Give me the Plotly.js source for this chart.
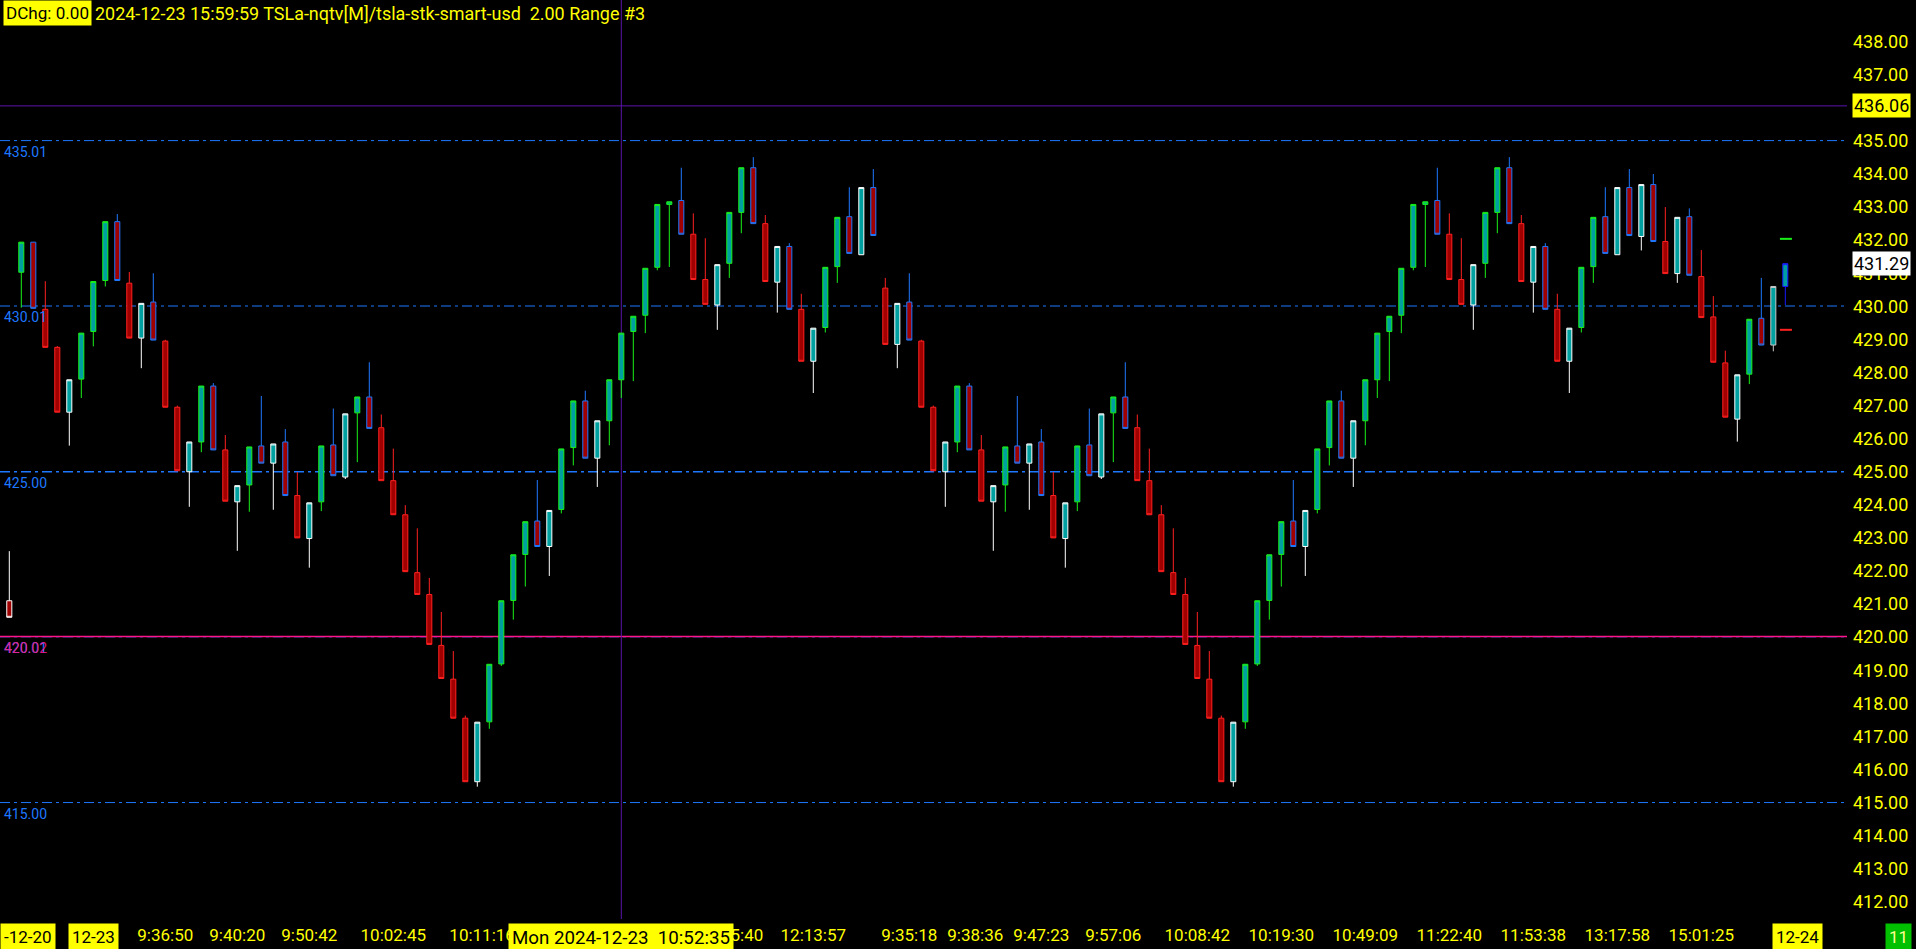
<!DOCTYPE html>
<html><head><meta charset="utf-8">
<script src="https://cdn.plot.ly/plotly-3.0.1.min.js"></script>
<style>html,body{margin:0;padding:0;background:#000;overflow:hidden}#chart{width:1916px;height:949px}</style>
</head><body><div id="chart"></div><script>
// ---------- data ----------
const opens = [
 421.1, 431.03, 431.94, 429.91, 428.76, 426.8, 427.8, 429.24, 430.78, 432.56,
 430.7, 429.04, 430.13, 428.95, 426.95, 425.0, 425.9, 427.59, 425.66, 424.09,
 424.6, 425.78, 425.26, 425.9, 424.28, 422.98, 424.09, 425.81, 424.84, 426.78,
 427.26, 426.33, 424.73, 423.7, 421.95, 421.29, 419.75, 418.73, 417.55, 415.63,
 417.44, 419.19, 421.11, 422.5, 423.51, 422.74, 423.86, 425.73, 427.14, 425.41,
 426.54, 427.78, 429.24, 429.73, 431.18, 433.08, 433.2, 432.18, 430.81, 430.04,
 431.3, 432.84, 434.19, 432.5, 430.73, 431.81, 429.91, 428.34, 429.36, 431.2,
 432.71, 431.56, 433.59, 430.55, 428.85, 430.13, 428.95, 426.95, 425.0, 425.9,
 427.59, 425.66, 424.09, 424.6, 425.78, 425.26, 425.9, 424.28, 422.98, 424.09,
 425.81, 424.84, 426.78, 427.26, 426.33, 424.73, 423.7, 421.95, 421.29, 419.75,
 418.73, 417.55, 415.63, 417.44, 419.19, 421.11, 422.5, 423.51, 422.74, 423.86,
 425.73, 427.14, 425.41, 426.54, 427.78, 429.24, 429.73, 431.18, 433.08, 433.2,
 432.18, 430.81, 430.04, 431.3, 432.84, 434.19, 432.5, 430.73, 431.81, 429.91,
 428.34, 429.36, 431.2, 432.71, 431.56, 433.59, 432.11, 433.68, 431.96, 430.99,
 432.71, 430.9, 429.68, 428.29, 426.59, 427.95, 429.64, 428.83, 430.6];
const highs = [
 422.6, 431.94, 431.94, 430.76, 428.8, 427.78, 429.19, 430.75, 432.56, 432.79,
 431.04, 430.09, 431.0, 428.99, 427.0, 425.9, 427.59, 427.68, 426.11, 424.58,
 425.75, 427.29, 425.84, 426.29, 424.99, 424.06, 425.78, 426.91, 426.75, 427.26,
 428.31, 426.73, 425.7, 423.99, 423.29, 421.79, 420.76, 419.58, 417.63, 417.43,
 419.18, 421.1, 422.49, 423.49, 424.75, 423.83, 425.69, 427.14, 427.45, 426.54,
 427.78, 429.19, 429.7, 431.15, 433.08, 433.16, 434.19, 432.81, 432.06, 431.26,
 432.84, 434.19, 434.51, 432.76, 431.81, 431.91, 430.38, 429.34, 431.18, 432.69,
 433.6, 433.59, 434.15, 430.86, 430.09, 431.0, 428.99, 427.0, 425.9, 427.59,
 427.68, 426.11, 424.58, 425.75, 427.29, 425.84, 426.29, 424.99, 424.06, 425.78,
 426.91, 426.75, 427.26, 428.31, 426.73, 425.7, 423.99, 423.29, 421.79, 420.76,
 419.58, 417.63, 417.43, 419.18, 421.1, 422.49, 423.49, 424.75, 423.83, 425.69,
 427.14, 427.45, 426.54, 427.78, 429.19, 429.7, 431.15, 433.08, 433.16, 434.19,
 432.81, 432.06, 431.26, 432.84, 434.19, 434.51, 432.76, 431.81, 431.91, 430.38,
 429.34, 431.18, 432.69, 433.6, 433.59, 434.15, 433.68, 434.0, 433.0, 432.69,
 432.96, 431.7, 430.31, 428.66, 427.93, 429.61, 430.86, 430.6, 431.29];
const lows = [
 420.6, 429.96, 429.94, 428.76, 426.8, 425.79, 427.23, 428.79, 430.6, 430.78,
 429.04, 428.13, 428.98, 426.95, 425.03, 423.94, 425.59, 425.66, 424.11, 422.61,
 423.79, 425.26, 423.85, 424.28, 423.0, 422.1, 423.81, 424.88, 424.78, 425.29,
 426.31, 424.73, 423.7, 421.98, 421.29, 419.78, 418.75, 417.55, 415.63, 415.48,
 417.23, 419.13, 420.53, 421.53, 422.74, 421.85, 423.74, 425.19, 425.41, 424.54,
 425.8, 427.23, 427.74, 429.19, 431.09, 431.19, 432.18, 430.81, 430.06, 429.29,
 430.86, 432.21, 432.5, 430.75, 429.81, 429.91, 428.34, 427.38, 429.21, 430.71,
 431.6, 431.56, 432.14, 428.85, 428.13, 428.98, 426.95, 425.03, 423.94, 425.59,
 425.66, 424.11, 422.61, 423.79, 425.26, 423.85, 424.28, 423.0, 422.1, 423.81,
 424.88, 424.78, 425.29, 426.31, 424.73, 423.7, 421.98, 421.29, 419.78, 418.75,
 417.55, 415.63, 415.48, 417.23, 419.13, 420.53, 421.53, 422.74, 421.85, 423.74,
 425.19, 425.41, 424.54, 425.8, 427.23, 427.74, 429.19, 431.09, 431.19, 432.18,
 430.81, 430.06, 429.29, 430.86, 432.21, 432.5, 430.75, 429.81, 429.91, 428.34,
 427.38, 429.21, 430.71, 431.6, 431.56, 432.14, 431.69, 431.96, 430.99, 430.71,
 430.94, 429.66, 428.31, 426.65, 425.91, 427.65, 428.83, 428.64, 430.04];
const closes = [
 420.6, 431.94, 429.94, 428.76, 426.8, 427.78, 429.19, 430.75, 432.56, 430.78,
 429.04, 430.09, 428.98, 426.95, 425.03, 425.9, 427.59, 425.66, 424.11, 424.58,
 425.75, 425.26, 425.84, 424.28, 423.0, 424.06, 425.78, 424.88, 426.75, 427.26,
 426.31, 424.73, 423.7, 421.98, 421.29, 419.78, 418.75, 417.55, 415.63, 417.43,
 419.18, 421.1, 422.49, 423.49, 422.74, 423.83, 425.69, 427.14, 425.41, 426.54,
 427.78, 429.19, 429.7, 431.15, 433.08, 433.16, 432.18, 430.81, 430.06, 431.26,
 432.84, 434.19, 432.5, 430.75, 431.81, 429.91, 428.34, 429.34, 431.18, 432.69,
 431.6, 433.59, 432.14, 428.85, 430.09, 428.98, 426.95, 425.03, 425.9, 427.59,
 425.66, 424.11, 424.58, 425.75, 425.26, 425.84, 424.28, 423.0, 424.06, 425.78,
 424.88, 426.75, 427.26, 426.31, 424.73, 423.7, 421.98, 421.29, 419.78, 418.75,
 417.55, 415.63, 417.43, 419.18, 421.1, 422.49, 423.49, 422.74, 423.83, 425.69,
 427.14, 425.41, 426.54, 427.78, 429.19, 429.7, 431.15, 433.08, 433.16, 432.18,
 430.81, 430.06, 431.26, 432.84, 434.19, 432.5, 430.75, 431.81, 429.91, 428.34,
 429.34, 431.18, 432.69, 431.6, 433.59, 432.14, 433.68, 431.96, 430.99, 432.69,
 430.94, 429.66, 428.31, 426.65, 427.93, 429.61, 428.83, 430.6, 431.29];
// bar colour class per bar
const barKinds = ("xgbrrwgggb" + "rwbrrwgbrw" + "gbwbrwgbwg" + "brrrrrrrrw" + "ggggbwggbw" +
  "ggggggbrrw" + "ggbrwbrwgg" + "bwbrwbrrwg" + "brwgbwbrwg" + "bwgbrrrrrr" +
  "rrwggggbwg" + "gbwggggggb" + "rrwggbrwbr" + "wggbwb" + "wbrwbrrrwgbsc").split("");

const priceTicks = [412, 413, 414, 415, 416, 417, 418, 419, 420, 421, 422, 423, 424, 425,
  426, 427, 428, 429, 430, 431, 432, 433, 434, 435, 436, 437, 438];
const timeTickBars = [13, 19, 25, 32, 39.4, 60.1, 67, 75, 80.5, 86, 92, 99, 106, 113, 120, 127, 134, 141];
const timeTickText = ["9:36:50", "9:40:20", "9:50:42", "10:02:45", "10:11:16", "11:25:40", "12:13:57",
  "9:35:18", "9:38:36", "9:47:23", "9:57:06", "10:08:42", "10:19:30", "10:49:09", "11:22:40",
  "11:53:38", "13:17:58", "15:01:25"];
const dateTickBars = [7, 149];
const dateTickText = ["12-23", "12-24"];
const blueLevels = [435.01, 430.01, 425.00, 420.01, 415.00];
const pinkLevel = 420.02;
const crossBar = 51;
const crossPrice = 436.06;
const crossTime = "Mon 2024-12-23\u00a0\u00a010:52:35";
const rangeSize = 2.00;
const dayChange = "DChg: 0.00";
const headerInfo = "2024-12-23 15:59:59 TSLa-nqtv[M]/tsla-stk-smart-usd\u00a0\u00a02.00 Range #3";
const barCount = "11";

// ---------- styling ----------
const YEL = "#ffff00";
const BLUE = "#1e78ff";
const PINK = "#ff148c";
const PURPLE = "#5a14a8";
const FAM = "Roboto";
const FONT = "Roboto, 'Liberation Sans', sans-serif";
const measureCtx = document.createElement("canvas").getContext("2d");
function textWidth(text, size) {
  measureCtx.font = size + "px " + FAM;
  return measureCtx.measureText(text).width;
}
function fitSize(text, width, lo, hi) {
  const s = 100 * width / textWidth(text, 100);
  return Math.max(lo, Math.min(hi, s));
}
const headerSize = fitSize(headerInfo, 551, 15, 22);
const dchgSize = fitSize(dayChange, 83, 15, 20);
const crossSize = fitSize(crossTime, 218, 16, 21);
const headerStart = 3 + 2 + textWidth(dayChange, dchgSize) + 2 + 4;

const kindStyle = {
  g: {line: "#19f019", fill: "#00a0a0"},
  w: {line: "#ffffff", fill: "#00a0a0"},
  r: {line: "#ff2020", fill: "#a00000"},
  b: {line: "#1e78ff", fill: "#a00000"},
  x: {line: "#ffffff", fill: "#a00000"},
  s: {line: "#c8c8c8", fill: "#00a0a0"},
  c: {line: "#1a1aff", fill: "#00a0a0"}
};

const traces = Object.keys(kindStyle).map(k => {
  const idx = [];
  barKinds.forEach((kk, i) => { if (kk === k) idx.push(i); });
  const st = {line: {color: kindStyle[k].line, width: 1}, fillcolor: kindStyle[k].fill};
  return {
    type: "candlestick",
    x: idx,
    open: idx.map(i => opens[i]),
    high: idx.map(i => highs[i]),
    low: idx.map(i => lows[i]),
    close: idx.map(i => closes[i]),
    increasing: st, decreasing: st,
    whiskerwidth: 0,
    hoverinfo: "skip",
    showlegend: false
  };
});

const last = closes.length - 1;
const shapes = [];
blueLevels.forEach(v => shapes.push({type: "line", xref: "paper", x0: 0, x1: 1, yref: "y", y0: v, y1: v,
  layer: "below", line: {color: BLUE, width: v === 425 ? 1.6 : 1, dash: "10px,4px,3px,4px"}}));
shapes.push({type: "line", xref: "paper", x0: 0, x1: 1, yref: "y", y0: pinkLevel, y1: pinkLevel,
  layer: "below", line: {color: PINK, width: 1.5}});
shapes.push({type: "line", xref: "paper", x0: 0, x1: 1, yref: "y", y0: crossPrice, y1: crossPrice,
  layer: "below", line: {color: PURPLE, width: 1}});
shapes.push({type: "line", xref: "x", x0: crossBar, x1: crossBar, yref: "paper", y0: 0, y1: 1,
  layer: "below", line: {color: PURPLE, width: 1}});
shapes.push({type: "line", xref: "x", x0: last - 0.45, x1: last + 0.55, yref: "y",
  y0: lows[last] + rangeSize, y1: lows[last] + rangeSize, line: {color: "#19f019", width: 2}});
shapes.push({type: "line", xref: "x", x0: last - 0.45, x1: last + 0.55, yref: "y",
  y0: highs[last] - rangeSize, y1: highs[last] - rangeSize, line: {color: "#ff2020", width: 2}});

const ann = [];
// left level labels
blueLevels.forEach(v => ann.push({xref: "paper", x: 0, xanchor: "left", xshift: 2, yref: "y", y: v,
  yanchor: "top", yshift: -1, text: v.toFixed(2), showarrow: false, font: {family: FONT, size: 14, color: BLUE}}));
ann.push({xref: "paper", x: 0, xanchor: "left", xshift: 2, yref: "y", y: pinkLevel, yanchor: "top", yshift: -2,
  text: pinkLevel.toFixed(2), showarrow: false, font: {family: FONT, size: 14, color: PINK}, opacity: 0.85});
// header
ann.push({xref: "paper", x: 0, xanchor: "left", xshift: 3, yref: "paper", y: 1, yanchor: "top",
  text: dayChange, showarrow: false, bgcolor: YEL, borderpad: 2,
  font: {family: FONT, size: dchgSize, color: "#000"}});
ann.push({xref: "paper", x: 0, xanchor: "left", xshift: headerStart - 2, yref: "paper", y: 1, yanchor: "top",
  text: headerInfo, showarrow: false, borderpad: 2, font: {family: FONT, size: headerSize, color: YEL}});
// bottom date labels
ann.push({xref: "paper", x: 0, xanchor: "left", yref: "paper", y: 0, yanchor: "top", yshift: -4,
  text: "-12-20", showarrow: false, bgcolor: YEL, borderpad: 3, font: {family: FONT, size: 17, color: "#000"}});
dateTickBars.forEach((b, k) => ann.push({xref: "x", x: b, xanchor: "center", yref: "paper", y: 0, yanchor: "top",
  yshift: -4, text: dateTickText[k], showarrow: false, bgcolor: YEL, borderpad: 3,
  font: {family: FONT, size: 17, color: "#000"}}));
ann.push({xref: "x", x: crossBar, xanchor: "center", yref: "paper", y: 0, yanchor: "top", yshift: -4,
  text: crossTime, showarrow: false, bgcolor: YEL, borderpad: 3, font: {family: FONT, size: crossSize, color: "#000"}});
ann.push({xref: "paper", x: 1, xanchor: "left", xshift: 38, yref: "paper", y: 0, yanchor: "top", yshift: -4,
  text: barCount, showarrow: false, bgcolor: "#00c000", borderpad: 3, font: {family: FONT, size: 17, color: "#ffff90"}});
// right price flags
ann.push({xref: "paper", x: 1, xanchor: "left", xshift: 5, yref: "y", y: crossPrice, yanchor: "middle",
  text: crossPrice.toFixed(2), showarrow: false, bgcolor: YEL, borderpad: 1, font: {family: FONT, size: 18, color: "#000"}});
ann.push({xref: "paper", x: 1, xanchor: "left", xshift: 5, yref: "y", y: closes[last], yanchor: "middle",
  text: closes[last].toFixed(2), showarrow: false, bgcolor: "#fff", borderpad: 1, font: {family: FONT, size: 18, color: "#000"}});

const layout = {
  width: 1916, height: 949,
  paper_bgcolor: "#000", plot_bgcolor: "#000",
  margin: {l: 0, r: 69, t: 0, b: 30},
  showlegend: false,
  boxgap: 0.4,
  xaxis: {range: [-0.775, 153.14], showgrid: false, zeroline: false, showline: false,
    rangeslider: {visible: false}, tickvals: timeTickBars, ticktext: timeTickText, ticks: "",
    tickfont: {family: FONT, size: 17, color: YEL}, ticklabelstandoff: 4, fixedrange: true},
  yaxis: {range: [411.48, 439.26], side: "right", showgrid: false, zeroline: false, showline: false,
    tickvals: priceTicks, ticktext: priceTicks.map(v => v.toFixed(2)), ticks: "",
    tickfont: {family: FONT, size: 18, color: YEL}, ticklabelstandoff: 5, fixedrange: true},
  shapes: shapes,
  annotations: ann
};
Plotly.newPlot("chart", traces, layout, {staticPlot: true, displayModeBar: false});
</script></body></html>
